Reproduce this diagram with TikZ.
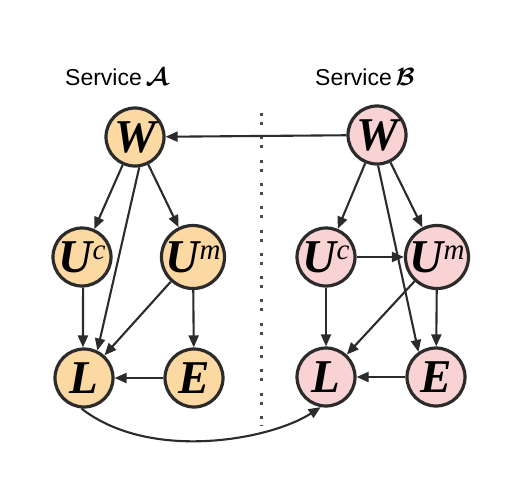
\documentclass[tikz,border=0pt]{standalone}
\usepackage{fontspec}
\setmainfont{Liberation Serif}
\setsansfont{Liberation Sans}
\usepackage{amsmath}
\usetikzlibrary{arrows.meta}
\definecolor{orangefill}{HTML}{FCD9A2}
\definecolor{pinkfill}{HTML}{F9D3D3}
\definecolor{ink}{HTML}{2B2B2B}
\newcommand{\lbl}[1]{{\fontsize{47}{47}\selectfont\bfseries\itshape #1}}
\newcommand{\sups}[1]{\raisebox{13pt}{\fontsize{29}{29}\selectfont\mdseries\itshape #1}}
\newcommand{\svc}[1]{{\fontsize{30}{30}\selectfont$\boldsymbol{\mathcal{#1}}$}}
\begin{document}
\begin{tikzpicture}[x=1pt,y=-1pt,
  var/.style={circle,draw=ink,line width=3.2pt,minimum size=58pt,inner sep=0pt},
  varA/.style={var,fill=orangefill},
  varB/.style={var,fill=pinkfill},
  edge/.style={draw=ink,line width=2.1pt,-{Triangle[length=12pt,width=10pt]}},
  title/.style={inner sep=0pt,font=\sffamily\fontsize{23}{23}\selectfont}]
\useasboundingbox (0,0) rectangle (526,498);
% titles
\node[title,anchor=base west] (tA) at (65,85) {Service\,\svc{A}};
\node[title,anchor=base west] (tB) at (315,85) {Service\,\svc{B}};
% divider
\coordinate (d1) at (261,113);
\coordinate (d2) at (261,426);
\draw[ink!85,line width=3pt,dash pattern=on 3pt off 6pt on 3pt off 11.3pt] (d1) -- (d2);
% service A
\node[varA] (WA) at (135,137) {\lbl{W}};
\node[varA] (UcA) at (82,257) {\lbl{U}\sups{c}};
\node[varA] (UmA) at (193,257) {\lbl{U}\sups{m}};
\node[varA] (LA) at (84,378) {\lbl{L}};
\node[varA] (EA) at (194,378) {\lbl{E}};
% service B
\node[varB] (WB) at (377,135) {\lbl{W}};
\node[varB] (UcB) at (326,257) {\lbl{U}\sups{c}};
\node[varB] (UmB) at (437,257) {\lbl{U}\sups{m}};
\node[varB] (LB) at (326,377) {\lbl{L}};
\node[varB] (EB) at (436,377) {\lbl{E}};
% edges A
\draw[edge] (WA) -- (UcA);
\draw[edge] (WA) -- (UmA);
\draw[edge] (WA.-82) -- (LA.64);
\draw[edge] (UcA.-88) -- (LA.92);
\draw[edge] (UmA) -- (LA);
\draw[edge] (UmA) -- (EA);
\draw[edge] (EA) -- (LA);
% edges B
\draw[edge] (WB) -- (UcB);
\draw[edge] (WB) -- (UmB);
\draw[edge] (WB.-88) -- (EB.125);
\draw[edge] (UcB) -- (UmB);
\draw[edge] (UcB) -- (LB);
\draw[edge] (UmB) -- (LB);
\draw[edge] (UmB) -- (EB);
\draw[edge] (EB) -- (LB);
% cross edges
\draw[edge] (WB) -- (WA);
\draw[edge] (LA.-95) .. controls (150,462) and (270,440) .. (LB.-100);
\end{tikzpicture}
\end{document}
